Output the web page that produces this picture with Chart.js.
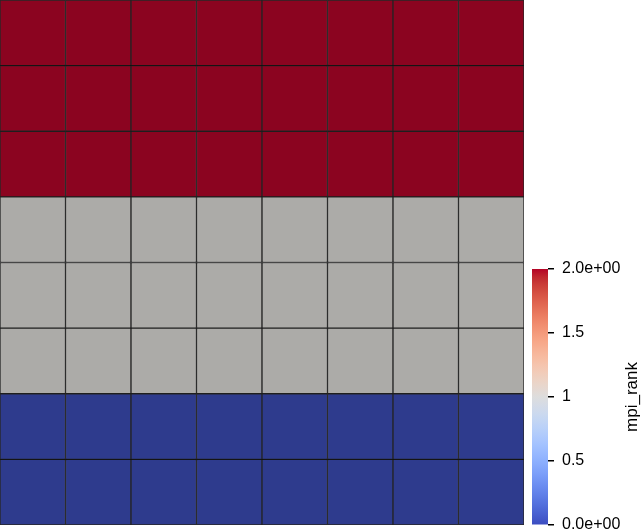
<!DOCTYPE html>
<html>
<head>
<meta charset="utf-8">
<script src="https://cdn.jsdelivr.net/npm/chart.js@4/dist/chart.umd.min.js"></script>
<style>
  html, body { margin: 0; padding: 0; background: #ffffff; overflow: hidden; }
  #main { position: absolute; left: 0; top: 0; }
  #bar { position: absolute; left: 500px; top: 250px; }
</style>
</head>
<body>
<canvas id="main" width="642" height="530"></canvas>
<canvas id="bar" width="142" height="280"></canvas>
<script>
// ---- data ----
const columns = ['0', '1', '2', '3', '4', '5', '6', '7'];
// mpi_rank of each cell, rows listed from bottom to top
const rankRow0 = [0, 0, 0, 0, 0, 0, 0, 0];
const rankRow1 = [0, 0, 0, 0, 0, 0, 0, 0];
const rankRow2 = [1, 1, 1, 1, 1, 1, 1, 1];
const rankRow3 = [1, 1, 1, 1, 1, 1, 1, 1];
const rankRow4 = [1, 1, 1, 1, 1, 1, 1, 1];
const rankRow5 = [2, 2, 2, 2, 2, 2, 2, 2];
const rankRow6 = [2, 2, 2, 2, 2, 2, 2, 2];
const rankRow7 = [2, 2, 2, 2, 2, 2, 2, 2];
const rankRows = [rankRow0, rankRow1, rankRow2, rankRow3, rankRow4, rankRow5, rankRow6, rankRow7];
const rankMin = 0;
const rankMax = 2;
const colorbarTicks = [0, 0.5, 1, 1.5, 2];
const colorbarTickLabels = ['0.0e+00', '0.5', '1', '1.5', '2.0e+00'];
const colorbarTitle = 'mpi_rank';

// ---- styles ----
const shadedCellColors = { 0: 'rgb(46,59,141)', 1: 'rgb(172,171,168)', 2: 'rgb(139,4,32)' };
const coolWarm = [
  [59,76,192],[68,90,204],[77,104,215],[87,117,225],[98,130,234],[108,142,241],
  [119,154,247],[130,165,251],[141,176,254],[152,185,255],[163,194,255],[174,201,253],
  [184,208,249],[194,213,244],[204,217,238],[213,219,230],[221,221,221],
  [229,216,209],[236,211,197],[241,204,185],[245,196,173],[247,187,160],[247,177,148],
  [247,166,135],[244,154,123],[241,141,111],[236,127,99],[229,112,88],[222,96,77],
  [213,80,66],[203,62,56],[192,40,47],[180,4,38]
];
const FONT = '"Liberation Sans", Arial, sans-serif';

// ---- main grid ----
const datasets = rankRows.map((row, i) => ({
  label: 'row ' + i,
  data: row.map(() => 1),
  backgroundColor: row.map(r => shadedCellColors[r]),
  borderColor: 'rgba(0,0,0,0.85)',
  borderWidth: 1,
  borderSkipped: false,
  barPercentage: 1,
  categoryPercentage: 1
}));

new Chart(document.getElementById('main'), {
  type: 'bar',
  data: { labels: columns, datasets },
  options: {
    responsive: false,
    animation: false,
    devicePixelRatio: 1,
    layout: { autoPadding: false, padding: { left: 0, top: 0, right: 118, bottom: 5 } },
    plugins: { legend: { display: false }, tooltip: { enabled: false } },
    scales: {
      x: { display: false, stacked: true },
      y: { display: false, stacked: true, min: 0, max: rankRows.length }
    }
  }
});

// ---- colorbar ----
function gradientFor(chart) {
  const area = chart.chartArea;
  if (!area) return shadedCellColors[1];
  const g = chart.ctx.createLinearGradient(0, area.bottom, 0, area.top);
  coolWarm.forEach((c, i) => g.addColorStop(i / (coolWarm.length - 1), 'rgb(' + c.join(',') + ')'));
  return g;
}

const titlePlugin = {
  id: 'cbTitle',
  afterDraw(chart) {
    const ctx = chart.ctx;
    const y = chart.scales.y;
    ctx.save();
    ctx.translate(132, (y.top + y.bottom) / 2);
    ctx.rotate(-Math.PI / 2);
    ctx.font = '17px ' + FONT;
    ctx.fillStyle = '#000';
    ctx.textAlign = 'center';
    ctx.textBaseline = 'middle';
    ctx.fillText(colorbarTitle, 0, 0);
    ctx.restore();
  }
};

new Chart(document.getElementById('bar'), {
  type: 'bar',
  data: {
    labels: [colorbarTitle],
    datasets: [{
      data: [[rankMin, rankMax]],
      backgroundColor: ctx => gradientFor(ctx.chart),
      borderWidth: 0,
      barPercentage: 1,
      categoryPercentage: 1
    }]
  },
  options: {
    responsive: false,
    animation: false,
    devicePixelRatio: 1,
    layout: { autoPadding: false, padding: { left: 32, top: 19, right: 0, bottom: 5 } },
    plugins: { legend: { display: false }, tooltip: { enabled: false } },
    scales: {
      x: { display: false },
      y: {
        position: 'right',
        min: rankMin,
        max: rankMax,
        afterFit: s => { s.width = 94; s.paddingTop = 0; s.paddingBottom = 0; },
        afterBuildTicks: s => { s.ticks = colorbarTicks.map(v => ({ value: v })); },
        border: { display: false },
        grid: { drawOnChartArea: false, drawTicks: true, tickLength: 6, color: '#000', lineWidth: 1.5 },
        ticks: {
          padding: 8,
          color: '#000',
          font: { family: FONT, size: 16 },
          callback: (v) => {
            const i = colorbarTicks.indexOf(v);
            return i >= 0 ? colorbarTickLabels[i] : '';
          }
        }
      }
    }
  },
  plugins: [titlePlugin]
});
</script>
</body>
</html>
